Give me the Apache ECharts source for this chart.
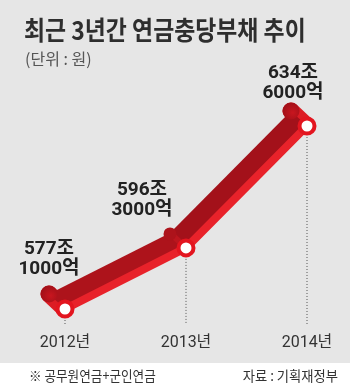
<!DOCTYPE html>
<html>
<head>
<meta charset="utf-8">
<script src="https://cdn.jsdelivr.net/npm/echarts@6/dist/echarts.min.js"></script>
<style>html,body{margin:0;padding:0;background:#fff}#c{width:350px;height:387px}</style>
</head>
<body>
<div id="c"></div>
<script>
// Data (조 원)
const categories = ['2012년', '2013년', '2014년'];
const values = [577.1, 596.3, 634.6];
const titleText = '최근 3년간 연금충당부채 추이';
const unitText = '(단위 : 원)';
const noteText = '※ 공무원연금+군인연금';
const sourceText = '자료 : 기획재정부';

// style config
const labelOffsets = [[-16, -50], [-44, -48], [-14, -43]];
const OFF = [-16, -15];
const BRIGHT = '#e8222a';
const NFONT = "Roboto, 'Noto Sans CJK KR', sans-serif";

function fmt(v) {
  const jo = Math.floor(v);
  const eok = Math.round((v - jo) * 10000);
  return jo + '조\n' + eok + '억';
}

const chart = echarts.init(document.getElementById('c'), null, {renderer: 'canvas'});
const n = values.length;

chart.setOption({
  backgroundColor: '#ffffff',
  animation: false,
  graphic: [
    {type: 'rect', shape: {x: 0, y: 0, width: 350, height: 363}, style: {fill: '#e6e6e6'}, z: -10, silent: true},
    {type: 'text', x: 24, y: 17, scaleX: 0.88, style: {text: titleText, font: "bold 26px 'Noto Sans CJK KR'", fill: '#2e2e2e', textVerticalAlign: 'top'}},
    {type: 'text', x: 25, y: 51, style: {text: unitText, font: "16px 'Noto Sans CJK KR'", fill: '#555', textVerticalAlign: 'top'}},
    {type: 'text', x: 29, y: 376, scaleX: 0.9, style: {text: noteText, font: "14px 'Noto Sans CJK KR'", fill: '#333', textVerticalAlign: 'middle'}},
    {type: 'text', x: 338, y: 376, scaleX: 0.95, style: {text: sourceText, font: "14px 'Noto Sans CJK KR'", fill: '#333', textAlign: 'right', textVerticalAlign: 'middle'}}
  ],
  grid: {left: 65, right: 43, top: 108.8, bottom: 55.4},
  xAxis: {
    type: 'category', data: categories, boundaryGap: false,
    axisLine: {show: false}, axisTick: {show: false}, splitLine: {show: false},
    axisLabel: {margin: 3, fontSize: 16, color: '#333', fontFamily: NFONT}
  },
  yAxis: {type: 'value', min: 570, max: 640, show: false, splitLine: {show: false}},
  series: [
    {
      type: 'custom',
      z: 2,
      clip: false,
      data: values.map((v, i) => [i, v]),
      renderItem: function (params, api) {
        const i = api.value(0);
        const p = api.coord([i, api.value(1)]);
        const pb = [p[0] + OFF[0], p[1] + OFF[1]];
        const cs = params.coordSys;
        const children = [];
        children.push({type: 'line', z2: 1,
          shape: {x1: p[0], y1: p[1] + 8, x2: p[0], y2: cs.y + cs.height - 7},
          style: {stroke: '#555', lineWidth: 1, lineDash: [1, 2]}});
        if (i < n - 1) {
          const q = api.coord([i + 1, values[i + 1]]);
          const qb = [q[0] + OFF[0], q[1] + OFF[1]];
          children.push({type: 'polygon', z2: 5,
            shape: {points: [p, q, qb, pb]},
            style: {fill: i === 0 ? '#ad131b' : '#a3111a'}});
          children.push({type: 'line', z2: 8,
            shape: {x1: p[0], y1: p[1], x2: q[0], y2: q[1]},
            style: {stroke: BRIGHT, lineWidth: 8, lineCap: 'round'}});
        }
        if (i === 0 || i === n - 1) {
          children.push({type: 'line', z2: 3,
            shape: {x1: p[0], y1: p[1], x2: pb[0], y2: pb[1]},
            style: {stroke: '#dc1c24', lineWidth: 17, lineCap: 'round'}});
          children.push({type: 'circle', z2: 7,
            shape: {cx: pb[0], cy: pb[1], r: 8.5},
            style: {fill: new echarts.graphic.RadialGradient(0.6, 0.6, 0.7, [
              {offset: 0, color: '#c8161f'}, {offset: 1, color: '#9c0f17'}])}});
        } else {
          children.push({type: 'line', z2: 6,
            shape: {x1: p[0], y1: p[1], x2: pb[0], y2: pb[1]},
            style: {stroke: '#bb161e', lineWidth: 6, lineCap: 'round'}});
          children.push({type: 'circle', z2: 6,
            shape: {cx: pb[0], cy: pb[1] + 1, r: 6.5},
            style: {fill: '#ad131b'}});
        }
        return {type: 'group', children: children};
      }
    },
    {
      type: 'line',
      z: 3,
      data: values.map((v, i) => ({value: v, label: {offset: labelOffsets[i]}})),
      lineStyle: {opacity: 0},
      symbol: 'circle',
      symbolSize: 15,
      itemStyle: {color: '#ffffff', borderColor: '#e3151f', borderWidth: 4},
      label: {
        show: true, position: 'inside', align: 'center', verticalAlign: 'middle',
        formatter: p => fmt(p.value),
        fontSize: 19, lineHeight: 20, fontWeight: 'bold', color: '#222', fontFamily: NFONT
      }
    }
  ]
});
</script>
</body>
</html>
